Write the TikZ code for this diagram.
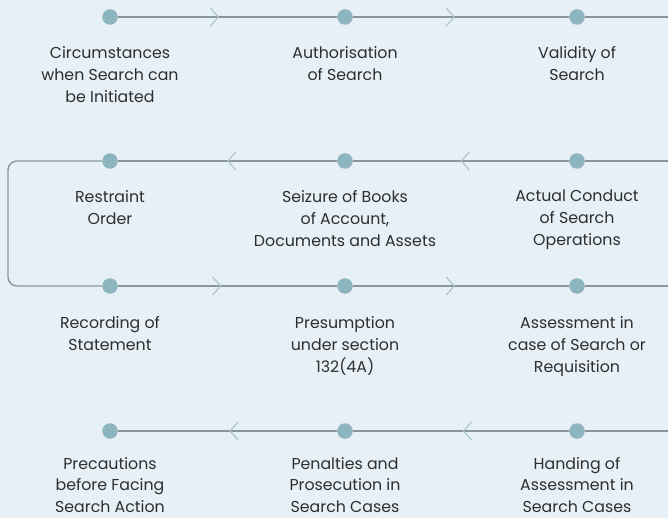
\documentclass[tikz,border=0pt]{standalone}
\usepackage{fontspec}
\setmainfont{Poppins}
\usetikzlibrary{calc}
\definecolor{bgc}{HTML}{E6F0F6}
\definecolor{dotc}{HTML}{8DB5BE}
\definecolor{linec}{HTML}{8A969D}
\definecolor{chevc}{HTML}{A8C3CB}
\definecolor{txtc}{HTML}{2E2E2E}
\tikzset{
  dotnode/.style={circle,fill=dotc,draw=none,minimum size=15.5pt,inner sep=0pt},
  conn/.style={draw=linec,line width=1.4pt},
  chevline/.style={draw=chevc,line width=1.1pt,line join=miter},
  chevR/.pic={\draw[chevline] (-4,-9) -- (4,0) -- (-4,9);},
  chevL/.pic={\draw[chevline] (4,-9) -- (-4,0) -- (4,9);},
  label/.style={align=center,anchor=north,inner sep=0pt,text=txtc,font=\fontsize{15.8}{22}\selectfont}
}
\begin{document}
\begin{tikzpicture}[x=1pt,y=-1pt]
\useasboundingbox (0,0) rectangle (668,518);
\fill[bgc] (0,0) rectangle (668,518);
% row 1
\node[dotnode] (a1) at (110,17) {};
\node[dotnode] (a2) at (345,17) {};
\node[dotnode] (a3) at (577,17) {};
\coordinate (ae) at (668,17);
% row 2
\node[dotnode] (b1) at (110,161) {};
\node[dotnode] (b2) at (345,161) {};
\node[dotnode] (b3) at (577,161) {};
\coordinate (be) at (668,161);
% row 3
\node[dotnode] (c1) at (110,286) {};
\node[dotnode] (c2) at (345,286) {};
\node[dotnode] (c3) at (577,286) {};
\coordinate (ce) at (668,286);
% row 4
\node[dotnode] (d1) at (110,431) {};
\node[dotnode] (d2) at (345,431) {};
\node[dotnode] (d3) at (577,431) {};
\coordinate (de) at (668,431);
% loop corners
\coordinate (lc1) at (8,161);
\coordinate (lc2) at (8,286);
% connectors
\draw[conn] (a1) -- pic[pos=0.44]{chevR} (a2);
\draw[conn] (a2) -- pic[pos=0.45]{chevR} (a3);
\draw[conn] (a3) -- (ae);
\draw[conn] (be) -- (b3);
\draw[conn] (b3) -- pic[pos=0.48]{chevL} (b2);
\draw[conn] (b2) -- pic[pos=0.48]{chevL} (b1);
\draw[conn,rounded corners=9pt] (b1) -- (lc1) -- (lc2) -- (c1);
\draw[conn] (c1) -- pic[pos=0.45]{chevR} (c2);
\draw[conn] (c2) -- pic[pos=0.45]{chevR} (c3);
\draw[conn] (c3) -- (ce);
\draw[conn] (de) -- (d3);
\draw[conn] (d3) -- pic[pos=0.47]{chevL} (d2);
\draw[conn] (d2) -- pic[pos=0.47]{chevL} (d1);
% labels
\node[label] (ta1) at (110,46) {Circumstances\\when Search can\\be Initiated};
\node[label] (ta2) at (345,46) {Authorisation\\of Search};
\node[label] (ta3) at (577,46) {Validity of\\Search};
\node[label] (tb1) at (110,190) {Restraint\\Order};
\node[label] (tb2) at (345,190) {Seizure of Books\\of Account,\\Documents and Assets};
\node[label] (tb3) at (577,190) {Actual Conduct\\of Search\\Operations};
\node[label] (tc1) at (110,316) {Recording of\\Statement};
\node[label] (tc2) at (345,316) {Presumption\\under section\\132(4A)};
\node[label] (tc3) at (577,316) {Assessment in\\case of Search or\\Requisition};
\node[label,font=\fontsize{15.8}{21.5}\selectfont] (td1) at (110,457) {Precautions\\before Facing\\Search Action};
\node[label,font=\fontsize{15.8}{21.5}\selectfont] (td2) at (345,457) {Penalties and\\Prosecution in\\Search Cases};
\node[label,font=\fontsize{15.8}{21.5}\selectfont] (td3) at (577,457) {Handing of\\Assessment in\\Search Cases};
\end{tikzpicture}
\end{document}
